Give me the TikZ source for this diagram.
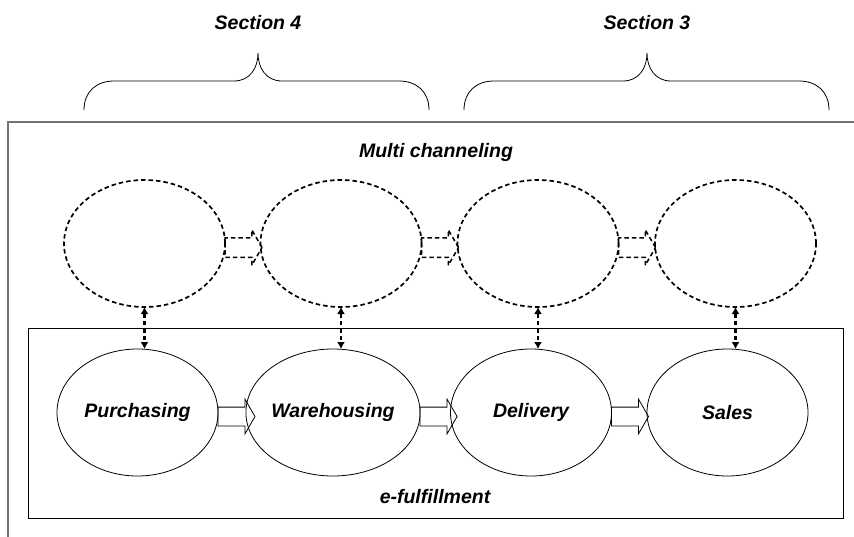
\documentclass[tikz,border=0pt]{standalone}
\usepackage{fontspec}
\setmainfont{Liberation Sans}
\usetikzlibrary{shapes.geometric,shapes.arrows,arrows.meta,calc}
\begin{document}
\begin{tikzpicture}[x=1pt,y=-1pt,
  lbl/.style={font=\fontsize{19.5}{23}\selectfont\bfseries\itshape, inner sep=0pt},
  dsh/.style={dash pattern=on 4.5pt off 3pt, line width=1.7pt},
  ell/.style={ellipse, draw, line width=0.8pt, minimum width=161pt, minimum height=127pt,
    inner sep=0pt, outer sep=0pt, font=\fontsize{19.5}{23}\selectfont\bfseries\itshape},
  dell/.style={ell, dsh},
  blk/.style={single arrow, draw, line width=0.8pt, minimum height=37pt, inner xsep=0pt,
    inner ysep=9pt, single arrow head extend=8pt, single arrow tip angle=120,
    anchor=west, outer sep=0pt},
  dblk/.style={blk, dsh, line width=1.5pt},
  dbl/.style={dsh, line width=2.2pt, {Latex[length=7pt,width=8pt]}-{Latex[length=7pt,width=8pt]}},
  brace/.style={line width=0.8pt},
  outerbox/.style={draw=black!55, line width=1.5pt},
  innerbox/.style={draw=black, line width=1pt}
]
\useasboundingbox (0,0) rectangle (854,536);
\clip (0,0) rectangle (854,536);

% boxes
\draw[outerbox] (8,122) rectangle (880,570);
\draw[innerbox] (28,328) rectangle (843,518);

% labels
\node[lbl] (s4) at (258,23) {Section 4};
\node[lbl] (s3) at (647,23) {Section 3};
\node[lbl] (mc) at (436,152) {Multi channeling};
\node[lbl] (ef) at (435,497) {e-fulfillment};

% braces
\draw[brace] (84,110) .. controls (84,92) and (96,81) .. (114,81) -- (234,81)
  .. controls (250,81) and (258,68) .. (258,53)
  .. controls (258,68) and (266,81) .. (282,81) -- (399,81)
  .. controls (417,81) and (429,92) .. (429,110);
\draw[brace] (464,110) .. controls (464,92) and (476,81) .. (494,81) -- (623,81)
  .. controls (639,81) and (647,68) .. (647,53)
  .. controls (647,68) and (655,81) .. (671,81) -- (799,81)
  .. controls (817,81) and (829,92) .. (829,110);

% upper dashed ellipses
\node[dell] (u1) at (144.5,243.5) {};
\node[dell] (u2) at (341,243.5) {};
\node[dell] (u3) at (538,243.5) {};
\node[dell] (u4) at (735.5,243.5) {};

% lower ellipses
\node[ell] (l1) at (137.5,412.5) {Purchasing};
\node[ell] (l2) at (333,412.5) {Warehousing};
\node[ell] (l3) at (531,412.5) {Delivery};
\node[ell] (l4) at (727.5,412.5) {Sales};

% lower block arrows
\node[blk] (a1) at ($(l1.east)+(0,4)$) {};
\node[blk] (a2) at ($(l2.east)+(0,4)$) {};
\node[blk] (a3) at ($(l3.east)+(0,4)$) {};

% upper dashed block arrows
\node[dblk] (b1) at ($(u1.east)+(0,4)$) {};
\node[dblk] (b2) at ($(u2.east)+(0,4)$) {};
\node[dblk] (b3) at ($(u3.east)+(0,4)$) {};

% vertical double arrows
\draw[dbl] (u1.south) -- (u1.south |- l1.north);
\draw[dbl] (u2.south) -- (u2.south |- l2.north);
\draw[dbl] (u3.south) -- (u3.south |- l3.north);
\draw[dbl] (u4.south) -- (u4.south |- l4.north);
\end{tikzpicture}
\end{document}
